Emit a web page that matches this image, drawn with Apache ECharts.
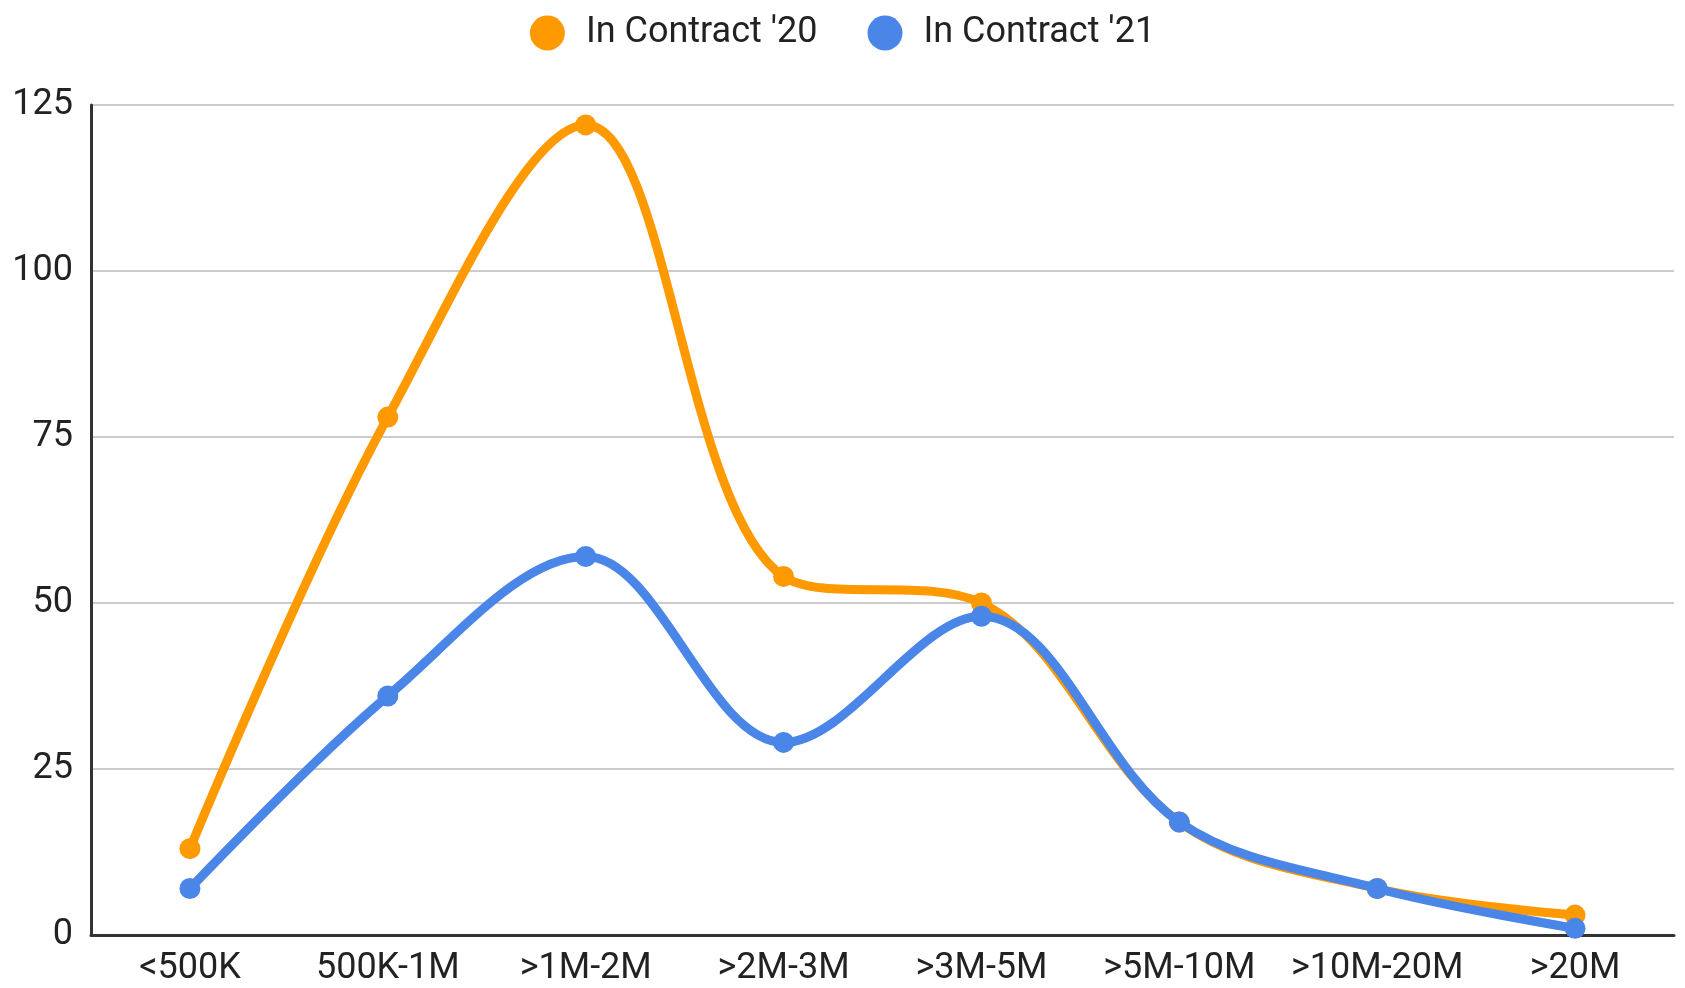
<!DOCTYPE html>
<html>
<head>
<meta charset="utf-8">
<script src="https://cdn.jsdelivr.net/npm/echarts@6/dist/echarts.min.js"></script>
<style>
html,body{margin:0;padding:0;background:#fff;}
#chart{width:1685px;height:988px;}
</style>
</head>
<body>
<div id="chart"></div>
<script>
const categories = ['<500K', '500K-1M', '>1M-2M', '>2M-3M', '>3M-5M', '>5M-10M', '>10M-20M', '>20M'];
const contract20 = [13, 78, 122, 54, 50, 17, 7, 3];
const contract21 = [7, 36, 57, 29, 48, 17, 7, 1];
const yTicks = [0, 25, 50, 75, 100, 125];

const chart = echarts.init(document.getElementById('chart'), null, {renderer: 'canvas'});
const font = 'Roboto, Arial, sans-serif';
chart.setOption({
  animation: false,
  backgroundColor: '#ffffff',
  legend: {
    top: 10,
    left: 'center',
    icon: 'circle',
    itemWidth: 35,
    itemHeight: 35,
    itemGap: 50,
    textStyle: {fontFamily: font, fontSize: 36, color: '#222', padding: [0, 0, 0, 16]},
    data: ["In Contract '20", "In Contract '21"]
  },
  grid: {left: 91, right: 11, top: 105, bottom: 53, containLabel: false},
  xAxis: {
    type: 'category',
    data: categories,
    boundaryGap: true,
    axisLine: {lineStyle: {color: '#333', width: 3}},
    axisTick: {show: false},
    axisLabel: {fontFamily: font, fontSize: 36, color: '#222', margin: 16, interval: 0}
  },
  yAxis: {
    type: 'value',
    min: yTicks[0],
    max: yTicks[yTicks.length - 1],
    interval: 25,
    axisLine: {show: true, lineStyle: {color: '#333', width: 3}},
    axisTick: {show: false},
    splitLine: {lineStyle: {color: '#cccccc', width: 2}},
    axisLabel: {fontFamily: font, fontSize: 36, color: '#222', margin: 18}
  },
  series: [
    {
      name: "In Contract '20",
      type: 'line',
      data: contract20,
      smooth: 0.35,
      symbol: 'circle',
      symbolSize: 21,
      itemStyle: {color: '#ff9900'},
      lineStyle: {width: 9, color: '#ff9900'},
      z: 2
    },
    {
      name: "In Contract '21",
      type: 'line',
      data: contract21,
      smooth: 0.35,
      symbol: 'circle',
      symbolSize: 21,
      itemStyle: {color: '#4a86e8'},
      lineStyle: {width: 9, color: '#4a86e8'},
      z: 3
    }
  ]
});
</script>
</body>
</html>
